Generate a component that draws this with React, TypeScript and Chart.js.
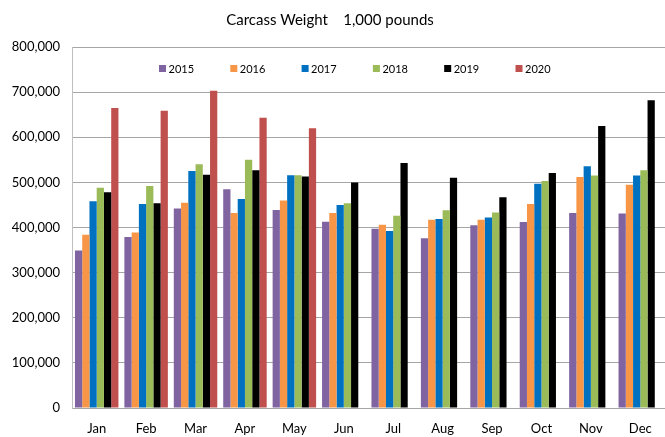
import React, { useEffect, useRef } from "react";
import { Chart, registerables } from "chart.js";

Chart.register(...registerables);

const months = ["Jan", "Feb", "Mar", "Apr", "May", "Jun", "Jul", "Aug", "Sep", "Oct", "Nov", "Dec"];
const seriesLabels = ["2015", "2016", "2017", "2018", "2019", "2020"];
const seriesColors = ["#8064A2", "#F79646", "#0070C0", "#9BBB59", "#000000", "#C0504D"];

const v2015 = [349000, 379000, 442000, 485000, 439000, 413000, 397000, 376000, 405000, 412000, 432000, 431000];
const v2016 = [384000, 389000, 455000, 432000, 460000, 432000, 406000, 417000, 417000, 452000, 512000, 495000];
const v2017 = [458000, 452000, 525000, 463000, 516000, 450000, 392000, 419000, 422000, 497000, 536000, 515000];
const v2018 = [488000, 492000, 540000, 550000, 516000, 454000, 426000, 438000, 433000, 503000, 515000, 527000];
const v2019 = [478000, 454000, 517000, 527000, 513000, 500000, 543000, 510000, 467000, 521000, 625000, 682000];
const v2020 = [665000, 659000, 703000, 643000, 620000, null, null, null, null, null, null, null];

const yTicks = [0, 100000, 200000, 300000, 400000, 500000, 600000, 700000, 800000];
const titleText = "Carcass Weight    1,000 pounds";

const FONT = "Lato, 'Open Sans', sans-serif";

export default function App() {
  const ref = useRef<HTMLCanvasElement | null>(null);

  useEffect(() => {
    document.body.style.margin = "0";
    const canvas = ref.current;
    if (!canvas) return;
    const allValues = [v2015, v2016, v2017, v2018, v2019, v2020];

    const overlay = {
      id: "overlay",
      afterDraw(chart: any) {
        const ctx = chart.ctx;
        ctx.save();
        // title
        ctx.fillStyle = "#000";
        ctx.font = `15px ${FONT}`;
        ctx.textAlign = "center";
        ctx.textBaseline = "middle";
        ctx.fillText(titleText, 330, 20);
        // legend
        ctx.font = `11px ${FONT}`;
        ctx.textAlign = "left";
        const start = 159;
        const step = 71.3;
        chart.data.datasets.forEach((ds: any, i: number) => {
          const x = start + i * step;
          ctx.fillStyle = ds.backgroundColor;
          ctx.fillRect(x, 65, 7, 7);
          ctx.fillStyle = "#000";
          ctx.fillText(ds.label, x + 9.5, 69);
        });
        ctx.restore();
      },
    };

    const chart = new Chart(canvas, {
      type: "bar",
      data: {
        labels: months,
        datasets: seriesLabels.map((label, i) => ({
          label,
          data: allValues[i] as any,
          backgroundColor: seriesColors[i],
          borderWidth: 0,
          categoryPercentage: 0.88,
          barPercentage: 1,
        })),
      },
      options: {
        animation: false,
        responsive: false,
        maintainAspectRatio: false,
        layout: { padding: { top: 47, right: 0, bottom: 0, left: 0 } },
        plugins: {
          legend: { display: false },
          title: { display: false },
          tooltip: { enabled: false },
        },
        scales: {
          x: {
            grid: { display: false, drawTicks: false },
            border: { display: true, color: "#A6A6A6", width: 1 },
            ticks: {
              color: "#000",
              font: { family: FONT, size: 13 },
              padding: 13,
              maxRotation: 0,
            },
            afterFit(scale: any) {
              scale.height = 29;
            },
          },
          y: {
            min: 0,
            max: 800000,
            afterBuildTicks(scale: any) {
              scale.ticks = yTicks.map((v) => ({ value: v }));
            },
            grid: { color: "#A6A6A6", lineWidth: 1, drawTicks: false },
            border: { display: true, color: "#BFBFBF", width: 1 },
            ticks: {
              color: "#000",
              font: { family: FONT, size: 13 },
              padding: 12,
              callback: (v: any) => Number(v).toLocaleString("en-US"),
            },
            afterFit(scale: any) {
              scale.width = 72;
            },
          },
        },
      },
      plugins: [overlay],
    });
    return () => chart.destroy();
  }, []);

  return (
    <div style={{ position: "absolute", left: 0, top: 0, width: 665, height: 437, background: "#fff" }}>
      <canvas ref={ref} width={665} height={437} style={{ width: 665, height: 437, display: "block" }} />
    </div>
  );
}
